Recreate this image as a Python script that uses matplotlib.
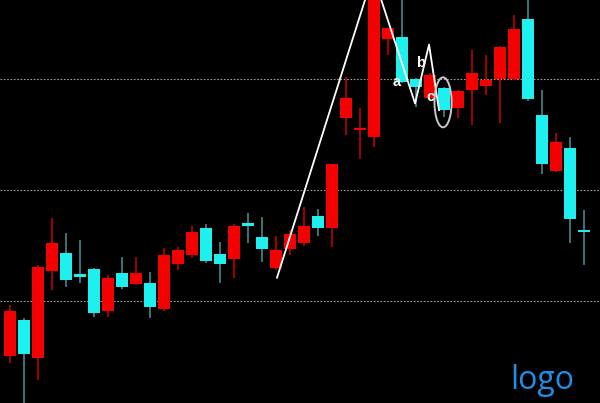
import matplotlib
matplotlib.use("Agg")
import matplotlib.pyplot as plt
from matplotlib.patches import Ellipse
import numpy as np

# daily candles (price units, grid lines at 10 / 11 / 12)
opens = [9.50, 9.83, 9.49, 10.27, 10.43, 10.24, 10.29, 9.91, 10.25, 10.15,
         10.16, 9.93, 10.33, 10.41, 10.66, 10.42, 10.38, 10.69, 10.58, 10.30,
         10.47, 10.52, 10.77, 10.66, 11.65, 11.54, 11.48, 12.36, 12.38, 12.00,
         11.83, 11.92, 11.74, 11.90, 11.94, 12.00, 12.00, 12.54, 11.68, 11.17,
         11.38, 10.64]
closes = [9.91, 9.52, 10.31, 10.52, 10.19, 10.22, 9.89, 10.21, 10.13, 10.25,
          9.95, 10.41, 10.46, 10.62, 10.36, 10.33, 10.68, 10.68, 10.47, 10.46,
          10.60, 10.68, 10.66, 11.23, 11.83, 11.56, 12.74, 12.46, 11.97, 11.93,
          12.04, 11.72, 11.89, 12.05, 11.99, 12.29, 12.45, 11.82, 11.23, 11.43,
          10.74, 10.62]
highs = [9.96, 9.85, 10.32, 10.75, 10.61, 10.55, 10.30, 10.23, 10.40, 10.40,
         10.26, 10.48, 10.49, 10.68, 10.69, 10.53, 10.69, 10.79, 10.76, 10.59,
         10.64, 10.85, 10.83, 11.23, 12.02, 11.74, 12.76, 12.46, 12.76, 12.01,
         12.05, 11.93, 11.90, 12.26, 12.22, 12.30, 12.58, 12.72, 11.90, 11.51,
         11.48, 10.82]
lows = [9.44, 9.00, 9.29, 10.10, 10.13, 10.16, 9.86, 9.86, 10.11, 10.14,
        9.85, 9.91, 10.28, 10.39, 10.34, 10.16, 10.21, 10.52, 10.35, 10.28,
        10.41, 10.50, 10.59, 10.49, 11.50, 11.28, 11.39, 12.22, 11.96, 11.75,
        11.80, 11.66, 11.65, 11.59, 11.86, 11.60, 11.99, 11.80, 11.14, 11.16,
        10.52, 10.32]

# hand-drawn wave a-b-c
wave_x = [19.07, 25.93, 28.93, 29.93, 30.64]
wave_y = [10.21, 12.94, 11.78, 12.31, 11.72]
wave_labels = ["a", "b", "c"]
label_x = [27.65, 29.3, 30.0]
label_y = [11.97, 12.14, 11.84]
grid_levels = [10.0, 11.0, 12.0]

UP = "#f50000"
DOWN = "#1ef0f0"

fig = plt.figure(figsize=(6.0, 4.03), dpi=100)
fig.patch.set_facecolor("black")
ax = fig.add_axes([0, 0, 1, 1])
ax.set_facecolor("black")

for lvl in grid_levels:
    ax.axhline(lvl, color="#a0a0a0", lw=0.8, ls=(0, (1.5, 1.5)), zorder=1)

x = np.arange(len(opens))
o, c = np.array(opens), np.array(closes)
up = c >= o
body_col = np.where(up, UP, DOWN)
wick_col = np.where(up, "#b00000", "#3f7f80")
ax.vlines(x, lows, highs, colors=wick_col, lw=1.3, zorder=2)
ax.bar(x, np.maximum(np.abs(c - o), 0.02), bottom=np.minimum(o, c), width=0.82,
       color=body_col, edgecolor="none", zorder=3)

ax.plot(wave_x, wave_y, color="white", lw=1.3, zorder=4)
for lx, ly, s in zip(label_x, label_y, wave_labels):
    ax.text(lx, ly, s, color="white", fontsize=10.5, fontweight="bold",
            family="Liberation Sans", ha="center", va="center", zorder=5)
ax.add_patch(Ellipse((30.93, 11.79), 1.22, 0.45, fill=False,
                     edgecolor="#c8c8c8", lw=1.4, zorder=5))

ax.text(0.903, 0.035, "logo", transform=ax.transAxes, color="#1e8fe6",
        fontsize=23, family="Open Sans", ha="center", va="baseline")

ax.set_xlim(-0.714, 42.14)
ax.set_ylim(9.081, 12.712)
ax.axis("off")
fig.savefig("out.png", dpi=100, facecolor="black")
